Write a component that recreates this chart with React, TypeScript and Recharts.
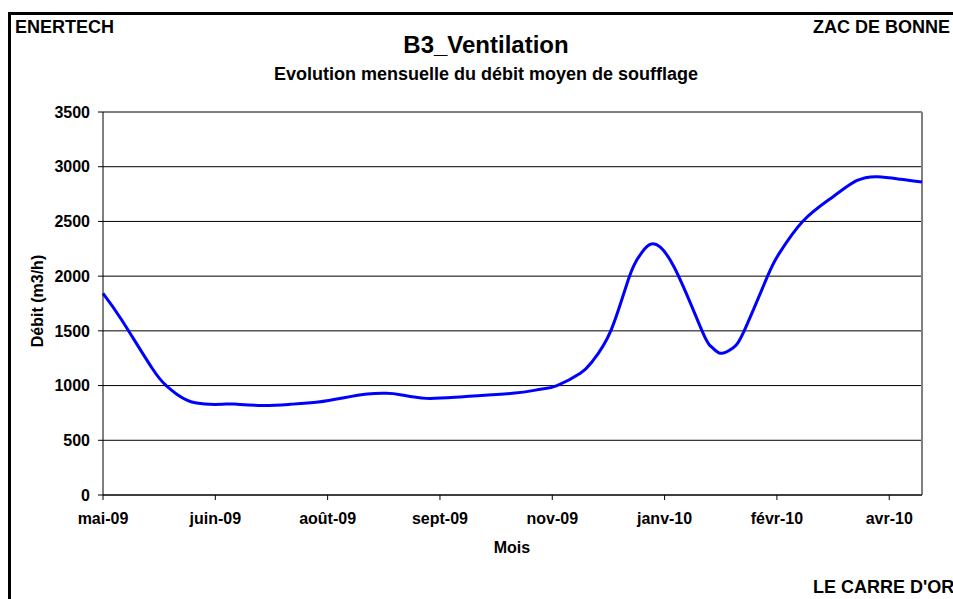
import { LineChart, Line, XAxis, YAxis, CartesianGrid, ReferenceLine } from "recharts";

// jours depuis le premier repère (mai-09)
const jours = [0, 8, 21, 27, 32, 40, 51, 56, 68, 80, 92, 103, 113, 121, 127, 138, 154, 175, 187, 194, 204, 209, 217, 225, 230, 235, 244, 256, 260, 264, 269, 274, 284, 289, 299, 312, 322, 331, 341, 350];
const debit = [1843, 1599, 1158, 1000, 914, 840, 829, 831, 819, 829, 850, 889, 923, 929, 917, 883, 898, 929, 966, 1000, 1112, 1218, 1500, 2000, 2208, 2295, 2086, 1500, 1355, 1295, 1340, 1500, 2000, 2208, 2500, 2726, 2872, 2909, 2885, 2860];

const moisTicks = [0, 48, 96, 144, 192, 240, 288, 336];
const moisLabels = ["mai-09", "juin-09", "août-09", "sept-09", "nov-09", "janv-10", "févr-10", "avr-10"];
const debitTicks = [0, 500, 1000, 1500, 2000, 2500, 3000, 3500];

const data = jours.map((j, i) => ({ jour: j, debit: debit[i] }));

const font = "'Liberation Sans', Arial, sans-serif";
const tickStyle = { fontSize: 16, fontWeight: 700, fill: "#000", fontFamily: font };

export default function App() {
  return (
    <div
      style={{
        position: "fixed",
        left: 0,
        top: 0,
        width: 953,
        height: 599,
        overflow: "hidden",
        background: "#fff",
        fontFamily: font,
        fontWeight: 700,
        color: "#000",
      }}
    >
      <div
        style={{
          position: "absolute",
          left: 8,
          top: 12,
          width: 1000,
          height: 700,
          border: "3px solid #000",
          boxSizing: "border-box",
        }}
      />
      <div style={{ position: "absolute", left: 15, top: 18, fontSize: 18, lineHeight: "18px" }}>ENERTECH</div>
      <div style={{ position: "absolute", right: 3, top: 18, fontSize: 18, lineHeight: "18px" }}>ZAC DE BONNE</div>
      <div style={{ position: "absolute", left: 286, width: 400, textAlign: "center", top: 33, fontSize: 24, lineHeight: "24px" }}>
        B3_Ventilation
      </div>
      <div style={{ position: "absolute", left: 186, width: 600, textAlign: "center", top: 65, fontSize: 18, lineHeight: "18px" }}>
        Evolution mensuelle du débit moyen de soufflage
      </div>
      <div style={{ position: "absolute", left: 462, width: 100, textAlign: "center", top: 540, fontSize: 16, lineHeight: "16px" }}>
        Mois
      </div>
      <div style={{ position: "absolute", left: 813, top: 578, fontSize: 18, lineHeight: "18px", whiteSpace: "nowrap" }}>
        LE CARRE D'OR
      </div>
      <div
        style={{
          position: "absolute",
          left: 38 - 60,
          top: 301 - 8,
          width: 120,
          textAlign: "center",
          fontSize: 16,
          lineHeight: "16px",
          transform: "rotate(-90deg)",
        }}
      >
        Débit (m3/h)
      </div>
      <div style={{ position: "absolute", left: 0, top: 0 }}>
        <LineChart width={953} height={599} data={data} margin={{ top: 112, right: 31, bottom: 0, left: 0 }}>
          <CartesianGrid vertical={false} stroke="#000" strokeWidth={1} />
          <XAxis
            dataKey="jour"
            type="number"
            domain={[0, 350]}
            ticks={moisTicks}
            tickFormatter={(v: number) => moisLabels[moisTicks.indexOf(v)] ?? ""}
            height={104}
            tickSize={5}
            tickMargin={13}
            tick={tickStyle}
            axisLine={{ stroke: "#000" }}
            tickLine={{ stroke: "#000" }}
            interval={0}
          />
          <YAxis
            type="number"
            domain={[0, 3500]}
            ticks={debitTicks}
            width={103}
            tickSize={5}
            tickMargin={8}
            tick={tickStyle}
            axisLine={{ stroke: "#000" }}
            tickLine={{ stroke: "#000" }}
            interval={0}
          />
          <ReferenceLine x={350} stroke="#808080" strokeWidth={2} />
          <Line
            type="natural"
            dataKey="debit"
            stroke="#0000FF"
            strokeWidth={3}
            dot={false}
            isAnimationActive={false}
          />
        </LineChart>
      </div>
    </div>
  );
}
